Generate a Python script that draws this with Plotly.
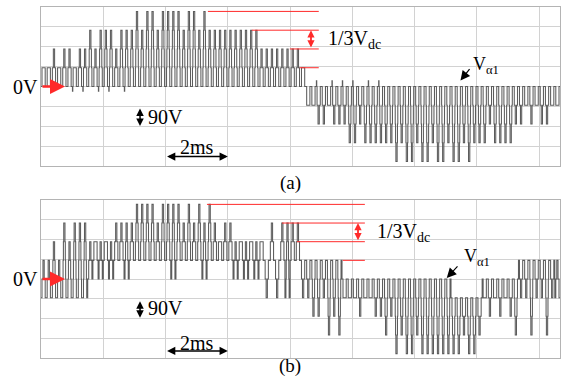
import plotly.graph_objects as go

# ---- waveform data -------------------------------------------------------
# Output voltage v_alpha1 over one 60 Hz cycle, described carrier period by
# carrier period: each pulse leaves its base level, steps through the
# intermediate levels to its peak level and comes back.  Levels are in
# units of Vdc/3.
LEVEL_V = 85.0              # volts per level (Vdc/3)
CYCLE_MS = 1000.0 / 60.0    # one fundamental cycle
N_PULSES = 100

# (a) conventional modulation
a_base = [
    0, 0, 0, 0, 0, 0, 0, 0, 0, 0,
    0, 0, 0, 0, 0, 0, 0, 0, 0, 0,
    0, 0, 0, 0, 0, 0, 0, 0, 0, 0,
    0, 0, 0, 0, 0, 0, 0, 0, 0, 0,
    0, 0, 0, 0, 0, 0, 0, 0, 0, 0,
    0, 0, 0, 0, 0, 0, 0, 0, 0, 0,
    0, 0, 0, 0, 0, 0, 0, 0, 0, 0,
    0, 0, 0, 0, 0, 0, 0, 0, 0, 0,
    0, 0, 0, 0, 0, 0, 0, 0, 0, 0,
    0, 0, 0, 0, 0, 0, 0, 0, 0, 0,
]
a_peak = [
    1, 1, 2, 1, 2, 2, 1, 2, 2, 3,
    2, 3, 3, 3, 2, 3, 3, 3, 4, 3,
    4, 4, 3, 4, 4, 4, 4, 3, 4, 4,
    3, 4, 3, 3, 3, 3, 3, 3, 3, 3,
    3, 3, 2, 2, 2, 2, 2, 2, 2, 2,
    1, -1, -1, -2, -2, -1, -2, -2, -2, -3,
    -3, -2, -3, -3, -3, -3, -3, -3, -4, -3,
    -4, -4, -3, -4, -4, -3, -4, -4, -3, -4,
    -4, -3, -4, -3, -3, -3, -2, -3, -3, -3,
    -3, -2, -2, -1, -2, -1, -2, -2, -1, -1,
]
# short switching spikes: pulse index and height (levels)
a_spike_idx = [6, 8, 11, 13, 16, 53, 56, 58, 60, 63, 65]
a_spike_amp = [-0.25, -0.25, -0.25, -0.25, -0.25, 0.3, 0.3, 0.3, 0.3, 0.3, 0.3]

# (b) proposed modulation
b_base = [
    -1, -1, -1, -1, -1, -1, -1, -1, -1, 0,
    1, 0, 1, 0, 1, 1, 0, 1, 1, 1,
    1, 1, 1, 1, 1, 0, 1, 1, 1, 1,
    1, 0, 1, 1, 1, 1, 1, 0, 1, 0,
    1, 0, 1, 1, 1, 1, 1, -1, 1, 1,
    1, 1, 1, 1, 1, 1, 1, 1, 0, 0,
    0, 0, 0, 0, 0, 0, 0, 0, 0, 0,
    0, 0, 0, 0, 0, 0, 0, 0, 0, -1,
    -1, -1, -1, -1, -1, 0, 0, 0, 0, 0,
    0, 0, 1, 1, 1, 1, 1, 1, 1, -1,
]
b_peak = [
    1, 1, 2, 1, 3, 2, 3, 3, 3, 2,
    2, 2, 2, 2, 3, 3, 3, 3, 4, 4,
    4, 4, 3, 4, 4, 4, 4, 3, 4, 3,
    4, 3, 4, 3, 2, 3, 3, 2, 2, 2,
    2, 2, 2, -1, 3, -1, 3, 3, 3, 3,
    -1, -1, -2, -2, -1, -3, -2, -3, -1, -1,
    -1, -2, -1, -1, -2, -2, -3, -2, -4, -3,
    -4, -4, -3, -4, -4, -4, -4, -4, -4, -4,
    -4, -3, -4, -4, -3, -1, -2, -1, -2, -1,
    -2, -3, -1, -1, -3, -1, -1, -3, -1, 1,
]
b_spike_idx = []
b_spike_amp = []

# Red reference levels (in Vdc/3 units) and their extent in ms
ref_levels = [4, 3, 2, 1]
a_ref_start = [5.36, 6.77, 7.99, 8.31]
a_ref_end = 8.92
b_ref_start = [5.33, 7.74, 8.22, 9.69]
b_ref_end = 10.40

# ---- build the stepped waveform -----------------------------------------
T_SW = CYCLE_MS / N_PULSES
W_OUT, W_IN = 0.62, 0.24


def waveform(base, peak, spike_idx, spike_amp):
    spikes = dict(zip(spike_idx, spike_amp))
    t, v = [], []
    for i, (b, p) in enumerate(zip(base, peak)):
        t0 = i * T_SW
        tc = t0 + T_SW / 2
        t.append(t0)
        v.append(b)
        if i in spikes:
            t += [t0 + 0.06 * T_SW, t0 + 0.13 * T_SW]
            v += [b + spikes[i], b]
        n = abs(p - b)
        s = 1 if p > b else -1
        widths = [T_SW * (W_OUT - (W_OUT - W_IN) * (k - 1) / max(n - 1, 1))
                  for k in range(1, n + 1)]
        for k in range(1, n + 1):
            t.append(tc - widths[k - 1] / 2)
            v.append(b + s * k)
        for k in range(n, 0, -1):
            t.append(tc + widths[k - 1] / 2)
            v.append(b + s * (k - 1))
    t.append(CYCLE_MS)
    v.append(v[-1])
    return t, [x * LEVEL_V for x in v]


fig = go.Figure()
ta, va = waveform(a_base, a_peak, a_spike_idx, a_spike_amp)
tb, vb = waveform(b_base, b_peak, b_spike_idx, b_spike_amp)
trace_style = dict(color="#5c5c5c", width=1.05, shape="hv")
fig.add_trace(go.Scatter(x=ta, y=va, mode="lines", line=trace_style,
                         xaxis="x", yaxis="y", hoverinfo="skip"))
fig.add_trace(go.Scatter(x=tb, y=vb, mode="lines", line=trace_style,
                         xaxis="x2", yaxis="y2", hoverinfo="skip"))

W, H = 562, 392
grid = dict(showgrid=True, gridcolor="#d2d2d2", gridwidth=1,
            showline=True, linecolor="#b4b4b4", linewidth=1, mirror=True,
            zeroline=False, showticklabels=False, ticks="")
xdom = [41 / W, 560 / W]
fig.update_layout(
    width=W, height=H, margin=dict(l=0, r=0, t=0, b=0),
    paper_bgcolor="white", plot_bgcolor="white", showlegend=False,
    xaxis=dict(domain=xdom, range=[0, CYCLE_MS], tick0=0, dtick=2,
               anchor="y", **grid),
    yaxis=dict(domain=[1 - 166 / H, 1 - 7 / H], range=[-360, 360], tick0=0,
               dtick=90, anchor="x", **grid),
    xaxis2=dict(domain=xdom, range=[0, CYCLE_MS], tick0=0, dtick=2,
                anchor="y2", **grid),
    yaxis2=dict(domain=[1 - 358 / H, 1 - 200 / H], range=[-360, 360],
                tick0=0, dtick=90, anchor="x2", **grid),
)

RED = "#ff2a2a"
SERIF = "Liberation Serif, Times New Roman, serif"
shapes = []
ann = []

panels = [
    ("x", "y", a_ref_start, a_ref_end, 8.67, 9.15, 212, (13.47, 27), (13.80, 86),
     (14.28, 97), -276, -317, -136, (-100, -186)),
    ("x2", "y2", b_ref_start, b_ref_end, 10.18, 10.72, 214, (13.03, 5), (13.42, 64),
     (13.99, 98), -292, -328, -132, (-101, -183)),
]
for (xr, yr, rs, re, arr_x, txt_x, txt_y, tip, tail, vlab,
     ms_y, ms_arrow_y, v90_y, v90_arrow) in panels:
    # reference level lines
    for lvl, x0 in zip(ref_levels, rs):
        shapes.append(dict(type="line", xref=xr, yref=yr, x0=x0, x1=re,
                           y0=lvl * LEVEL_V, y1=lvl * LEVEL_V,
                           line=dict(color=RED, width=1)))
    # 1/3 Vdc double arrow between levels 3 and 2
    ann.append(dict(xref=xr, yref=yr, axref=xr, ayref=yr, x=arr_x,
                    y=3 * LEVEL_V, ax=arr_x, ay=2 * LEVEL_V, text="",
                    showarrow=True, arrowhead=2, arrowside="end+start",
                    arrowsize=0.8, arrowwidth=1.8, arrowcolor=RED))
    ann.append(dict(xref=xr, yref=yr, x=txt_x, y=txt_y, xanchor="left",
                    yanchor="middle", showarrow=False,
                    text="1/3V<sub>dc</sub>",
                    font=dict(family=SERIF, size=20, color="black")))
    # v_alpha1 label with pointer
    ann.append(dict(xref=xr, yref=yr, axref=xr, ayref=yr, x=tip[0], y=tip[1],
                    ax=tail[0], ay=tail[1], text="", showarrow=True,
                    arrowhead=2, arrowsize=1.6, arrowwidth=1.2,
                    arrowcolor="black"))
    ann.append(dict(xref=xr, yref=yr, x=vlab[0], y=vlab[1], showarrow=False,
                    text="V<sub>α1</sub>",
                    font=dict(family=SERIF, size=18, color="black")))
    # 0 V marker
    ann.append(dict(xref=xr, yref=yr, axref=xr, ayref=yr, x=0.77, y=0, ax=0,
                    ay=0, text="", showarrow=True, arrowhead=2,
                    arrowsize=1.2, arrowwidth=2.5, arrowcolor=RED))
    ann.append(dict(xref="paper", yref=yr, x=40 / W, y=0, xanchor="right",
                    yanchor="middle", showarrow=False, text="0V",
                    font=dict(family=SERIF, size=20, color="black")))
    # 90 V per division
    ann.append(dict(xref=xr, yref=yr, axref=xr, ayref=yr, x=3.18,
                    y=v90_arrow[0], ax=3.18, ay=v90_arrow[1], text="",
                    showarrow=True, arrowhead=2, arrowside="end+start",
                    arrowsize=1.0, arrowwidth=1.5, arrowcolor="black"))
    ann.append(dict(xref=xr, yref=yr, x=3.37, y=v90_y, xanchor="left",
                    yanchor="middle", showarrow=False, text="90V",
                    font=dict(family=SERIF, size=20, color="black")))
    # 2 ms per division
    ann.append(dict(xref=xr, yref=yr, axref=xr, ayref=yr, x=6.0,
                    y=ms_arrow_y, ax=4.0, ay=ms_arrow_y, text="",
                    showarrow=True, arrowhead=2, arrowside="end+start",
                    arrowsize=1.1, arrowwidth=1.5, arrowcolor="black"))
    ann.append(dict(xref=xr, yref=yr, x=5.0, y=ms_y, showarrow=False,
                    text="2ms",
                    font=dict(family=SERIF, size=20, color="black")))

ann.append(dict(xref="paper", yref="paper", x=290 / W, y=1 - 183 / H,
                showarrow=False, text="(a)",
                font=dict(family=SERIF, size=19, color="black")))
ann.append(dict(xref="paper", yref="paper", x=290 / W, y=1 - 379 / H,
                showarrow=False, text="(b)",
                font=dict(family=SERIF, size=19, color="black")))

fig.update_layout(shapes=shapes, annotations=ann)
fig.write_html("out.html")
